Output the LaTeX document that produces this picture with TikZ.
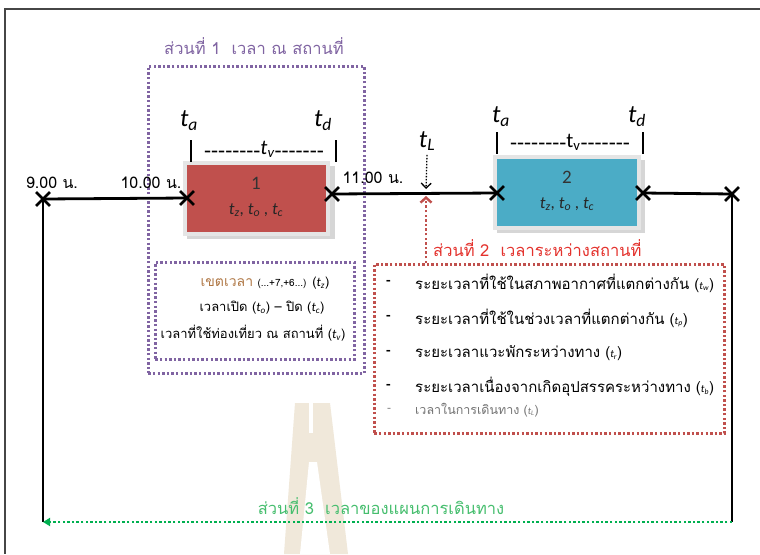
\documentclass[tikz,border=0pt]{standalone}
\usepackage{fontspec}
\setmainfont{Carlito}
\newfontfamily\thai[Script=Thai]{Loma}
\newfontfamily\plain{Carlito}
\usetikzlibrary{arrows.meta,shapes.misc}
\definecolor{pur}{RGB}{128,100,162}
\definecolor{redbox}{RGB}{192,80,77}
\definecolor{redtxt}{RGB}{228,50,45}
\definecolor{tealbox}{RGB}{75,172,198}
\definecolor{grn}{RGB}{0,176,80}
\definecolor{grntxt}{RGB}{70,190,110}
\definecolor{beige}{RGB}{240,232,218}
\definecolor{goldtxt}{RGB}{176,120,70}
\definecolor{framec}{RGB}{70,70,70}
\newcommand\tsb[1]{{\plain\itshape t\textsubscript{#1}}}
\newcommand\hyf{\plain\fontsize{23}{23}\selectfont}
\tikzset{
  dotline/.style={line width=2.6, dash pattern=on 2.4 off 2.2},
  xmark/.style={cross out, draw=black, line width=2.8, minimum size=11, inner sep=0},
  tline/.style={line width=2.8, black},
  placebox/.style={minimum width=#1, minimum height=71, inner sep=0, draw=black!10, line width=3.5},
  thaitxt/.style={font=\thai\fontsize{13}{15}\selectfont, inner sep=0},
  timelbl/.style={font=\thai\fontsize{16}{18}\selectfont, inner sep=0},
  bigt/.style={font=\plain\itshape\fontsize{25}{25}\selectfont, inner sep=0},
  listtxt/.style={font=\thai\fontsize{15}{17}\selectfont, inner sep=0, anchor=west},
  dashtxt/.style={font=\plain\bfseries\fontsize{15}{15}\selectfont, inner sep=0, anchor=west},
  heading/.style={font=\thai\fontsize{16.5}{18}\selectfont, inner sep=0},
  barline/.style={line width=1.6, black}
}
\begin{document}
\begin{tikzpicture}[x=1pt,y=-1pt]
\useasboundingbox (0,0) rectangle (760,554);
\fill[white] (0,0) rectangle (760,554);
% watermark
\fill[beige] (295,403) -- (330,403) -- (348,554) -- (284,554) -- cycle;
\fill[white] (309,403) rectangle (313,433);
\fill[white] (309,462) -- (317,462) -- (330,554) -- (300,554) -- cycle;
% frame
\draw[framec, line width=1.2] (760,9) -- (5,9) -- (5,554);
% part 1 boxes
\node[draw=pur, dotline, minimum width=216, minimum height=307, inner sep=0, anchor=north west] (p1) at (147,65) {};
\node[draw=pur, dotline, minimum width=199, minimum height=97, inner sep=0, anchor=north west] (p1in) at (154,261) {};
\node[heading, text=pur] (p1t) at (254,46) {ส่วนที่ 1\ \ เวลา ณ สถานที่};
% part 2 box
\node[draw=redbox, dotline, minimum width=350, minimum height=169, inner sep=0, anchor=north west] (p2) at (373,263) {};
\node[heading, text=redtxt, anchor=west] (p2t) at (433,248) {ส่วนที่ 2\ \ เวลาระหว่างสถานที่};
% place boxes
\fill[black!16] (187,166) rectangle (335,239);
\node[placebox=143, fill=redbox] (b1) at (256.5,198.5) {};
\fill[black!16] (497,160) rectangle (645,233);
\node[placebox=144, fill=tealbox] (b2) at (567,192.5) {};
\node[font=\plain\fontsize{19}{19}\selectfont, text=black!80] (b1n) at (256,183) {1};
\node[font=\plain\fontsize{17}{17}\selectfont, text=black!85] (b1s) at (256,210) {\tsb{z}, \tsb{o} , \tsb{c}};
\node[font=\plain\fontsize{19}{19}\selectfont, text=black!80] (b2n) at (567,177) {2};
\node[font=\plain\fontsize{17}{17}\selectfont, text=black!85] (b2s) at (567,204) {\tsb{z}, \tsb{o} , \tsb{c}};
% timeline marks
\node[xmark] (x1) at (43,199) {};
\node[xmark] (x2) at (187,198) {};
\node[xmark] (x3) at (332,194) {};
\node[xmark] (x4) at (497,193) {};
\node[xmark] (x5) at (643,193) {};
\node[xmark] (x6) at (732,194) {};
\coordinate (bl) at (43,522);
\coordinate (br) at (732,522);
\draw[tline] (x1.center) -- (x2.center);
\draw[tline] (x3.center) -- (x4.center);
\draw[tline] (x5.center) -- (x6.center);
\draw[tline] (x1.center) -- (bl);
\draw[tline] (x6.center) -- (br);
% time labels
\node[timelbl] (l9) at (52,183) {9.00 น.};
\node[timelbl] (l10) at (151,183) {10.00 น.};
\node[timelbl] (l11) at (373,178) {11.00 น.};
% ta td tv above box 1
\node[bigt] (ta1) at (189,121) {t\textsubscript{a}};
\node[bigt] (td1) at (323,121) {t\textsubscript{d}};
\draw[barline] (191,140) -- (191,162);
\draw[barline] (336,140) -- (336,162);
\node[inner sep=0] (tv1) at (264,150) {\raisebox{-4pt}{\hyf --------}{\plain\itshape\fontsize{21}{21}\selectfont t\textsubscript{v}}\raisebox{-4pt}{\hyf -------}};
% ta td tv above box 2
\node[bigt] (ta2) at (501,117) {t\textsubscript{a}};
\node[bigt] (td2) at (637,117) {t\textsubscript{d}};
\draw[barline] (497,132) -- (497,154);
\draw[barline] (643,132) -- (643,154);
\node[inner sep=0] (tv2) at (570,142) {\raisebox{-3pt}{\hyf --------}{\plain\fontsize{21}{21}\selectfont t\textsubscript{v}}\raisebox{-3pt}{\hyf -------}};
% tL arrow
\node[bigt] (tL) at (427,141) {t\textsubscript{L}};
\coordinate (tLend) at (426,189);
\draw[black, line width=1.3, dash pattern=on 1.5 off 1.5, -{Straight Barb[length=5,width=10]}] (tL.south) ++(0,4) -- (tLend);
% red arrow up
\coordinate (rtop) at (426,263);
\coordinate (rend) at (426,196);
\draw[redbox, dotline, -{Straight Barb[length=5,width=11,line width=2.4]}] (rtop) -- (rend);
% part 1 inner texts
\node[thaitxt] (i1) at (265,283) {{\color{goldtxt}\fontsize{14}{15}\selectfont เขตเวลา} {\fontsize{10}{10}\selectfont(...+7,+6...)} (\tsb{z})};
\node[thaitxt] (i2) at (262,308) {เวลาเปิด (\tsb{o}) – ปิด (\tsb{c})};
\node[thaitxt] (i3) at (253,333) {เวลาที่ใช้ท่องเที่ยว ณ สถานที่ (\tsb{v})};
% list
\node[dashtxt] (d1) at (386,283) {-};
\node[dashtxt] (d2) at (386,318) {-};
\node[dashtxt] (d3) at (386,353) {-};
\node[dashtxt] (d4) at (386,387) {-};
\node[dashtxt, font=\plain\fontsize{13}{13}\selectfont, text=black!50] (d5) at (387,410) {-};
\node[listtxt] (e1) at (415,283) {ระยะเวลาที่ใช้ในสภาพอากาศที่แตกต่างกัน ({\fontsize{11}{11}\selectfont\tsb{w}})};
\node[listtxt] (e2) at (415,318) {ระยะเวลาที่ใช้ในช่วงเวลาที่แตกต่างกัน ({\fontsize{11}{11}\selectfont\tsb{p}})};
\node[listtxt] (e3) at (415,353) {ระยะเวลาแวะพักระหว่างทาง ({\fontsize{11}{11}\selectfont\tsb{r}})};
\node[listtxt] (e4) at (415,387) {ระยะเวลาเนื่องจากเกิดอุปสรรคระหว่างทาง ({\fontsize{11}{11}\selectfont\tsb{b}})};
\node[listtxt, font=\thai\fontsize{12.5}{14}\selectfont, text=black!55] (e5) at (415,410) {เวลาในการเดินทาง ({\fontsize{10}{10}\selectfont\tsb{L}})};
% part 3
\node[heading, text=grntxt] (p3t) at (381,506) {ส่วนที่ 3\ \ เวลาของแผนการเดินทาง};
\draw[grn, dotline, -{Triangle[length=7,width=8]}] (br) -- (bl);
\end{tikzpicture}
\end{document}
